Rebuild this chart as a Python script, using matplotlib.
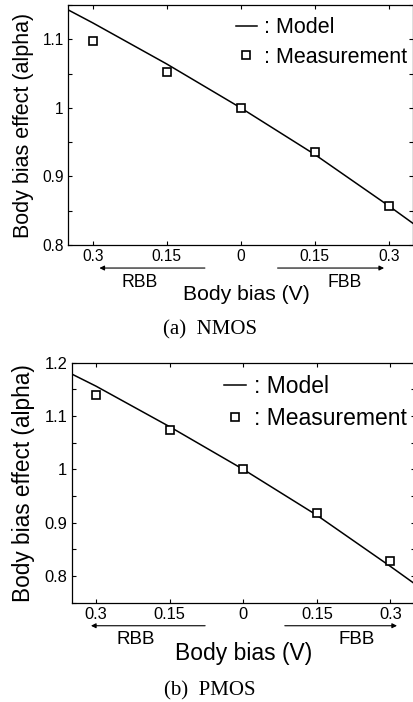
import matplotlib
matplotlib.use('Agg')
from matplotlib import pyplot as plt
from matplotlib.ticker import MultipleLocator, FuncFormatter
from matplotlib.lines import Line2D

plt.rcParams['font.family'] = ['Liberation Sans', 'DejaVu Sans']

# body bias: negative = RBB, positive = FBB
bias = [-0.3, -0.15, 0, 0.15, 0.3]
tick_labels = ['0.3', '0.15', '0', '0.15', '0.3']

# model curve
model_x = [-0.35, -0.3, -0.15, 0, 0.15, 0.3, 0.35]
nmos_model = [1.143, 1.124, 1.064, 1.0, 0.932, 0.857, 0.831]
pmos_model = [1.179, 1.156, 1.080, 1.0, 0.914, 0.818, 0.785]

# measurement
nmos_meas = [1.097, 1.052, 1.0, 0.935, 0.857]
pmos_meas = [1.139, 1.073, 1.0, 0.918, 0.828]

W, H = 413, 702
fig = plt.figure(figsize=(W / 100, H / 100), dpi=100)


def px_ax(left, top, right, bottom):
    return fig.add_axes([left / W, 1 - bottom / H, (right - left) / W, (bottom - top) / H])


def draw(ax, model, meas, ylim, fs, leg_anchor, lab_space, arrows, lab_x):
    ax.plot(model_x, model, color='black', lw=1.1)
    ax.plot(bias, meas, ls='none', marker='s', ms=6, mfc='white', mec='black', mew=1.2)
    ax.set_xlim(-0.35, 0.35)
    ax.set_ylim(*ylim)
    ax.set_xticks(bias)
    ax.set_xticklabels(tick_labels)
    ax.yaxis.set_major_locator(MultipleLocator(0.1))
    ax.yaxis.set_minor_locator(MultipleLocator(0.05))
    ax.yaxis.set_major_formatter(FuncFormatter(lambda v, p: '%g' % round(v, 2)))
    ax.tick_params(which='both', direction='in', top=True, right=True, length=3,
                   width=0.8, labelsize=fs * 0.72, pad=3)
    for s in ax.spines.values():
        s.set_linewidth(0.9)

    handles = [Line2D([], [], color='black', lw=1.1),
               Line2D([], [], ls='none', marker='s', ms=6, mfc='white', mec='black', mew=1.2)]
    ax.legend(handles, [': Model', ': Measurement'], loc='upper right', frameon=False,
              fontsize=fs, handlelength=0.95, handletextpad=0.35, labelspacing=lab_space,
              numpoints=1, bbox_to_anchor=leg_anchor, borderaxespad=0)

    tr = ax.get_xaxis_transform()
    (r0, r1), (f0, f1) = arrows
    ax.annotate('', xy=(r1, -0.096), xytext=(r0, -0.096), xycoords=tr, textcoords=tr,
                arrowprops=dict(arrowstyle='-|>', lw=0.8, color='black', mutation_scale=7),
                annotation_clip=False)
    ax.annotate('', xy=(f1, -0.096), xytext=(f0, -0.096), xycoords=tr, textcoords=tr,
                arrowprops=dict(arrowstyle='-|>', lw=0.8, color='black', mutation_scale=7),
                annotation_clip=False)
    ax.text(lab_x[0], -0.155, 'RBB', transform=tr, ha='center', va='center',
            fontsize=fs * 0.82)
    ax.text(lab_x[1], -0.155, 'FBB', transform=tr, ha='center', va='center',
            fontsize=fs * 0.82)


# (a) NMOS
ax1 = px_ax(68, 5, 413.5, 245)
draw(ax1, nmos_model, nmos_meas, (0.8, 1.15), 15.5, (1.007, 0.985), 0.4,
     ((-0.067, -0.292), (0.069, 0.296)), (-0.204, 0.211))
ax1.text(0.0117, -0.208, 'Body bias (V)', transform=ax1.get_xaxis_transform(),
         ha='center', va='center', fontsize=15.2)
fig.text(24 / W, 1 - 125 / H, 'Body bias effect (alpha)', rotation=90,
         ha='center', va='center', fontsize=15.5)
fig.text(210 / W, 1 - 330 / H, '(a)  NMOS', ha='center', va='center',
         fontsize=15, family=['Liberation Serif'])

# (b) PMOS
ax2 = px_ax(71.5, 362.7, 415, 602.7)
draw(ax2, pmos_model, pmos_meas, (0.75, 1.2), 16.5, (1.003, 0.985), 0.37,
     ((-0.072, -0.316), (0.079, 0.319)), (-0.22, 0.231))
ax2.text(0.0, -0.21, 'Body bias (V)', transform=ax2.get_xaxis_transform(),
         ha='center', va='center', fontsize=16.5)
fig.text(24 / W, 1 - 483 / H, 'Body bias effect (alpha)', rotation=90,
         ha='center', va='center', fontsize=16.3)
fig.text(210 / W, 1 - 691 / H, '(b)  PMOS', ha='center', va='center',
         fontsize=15, family=['Liberation Serif'])

fig.savefig('out.png', dpi=100)
